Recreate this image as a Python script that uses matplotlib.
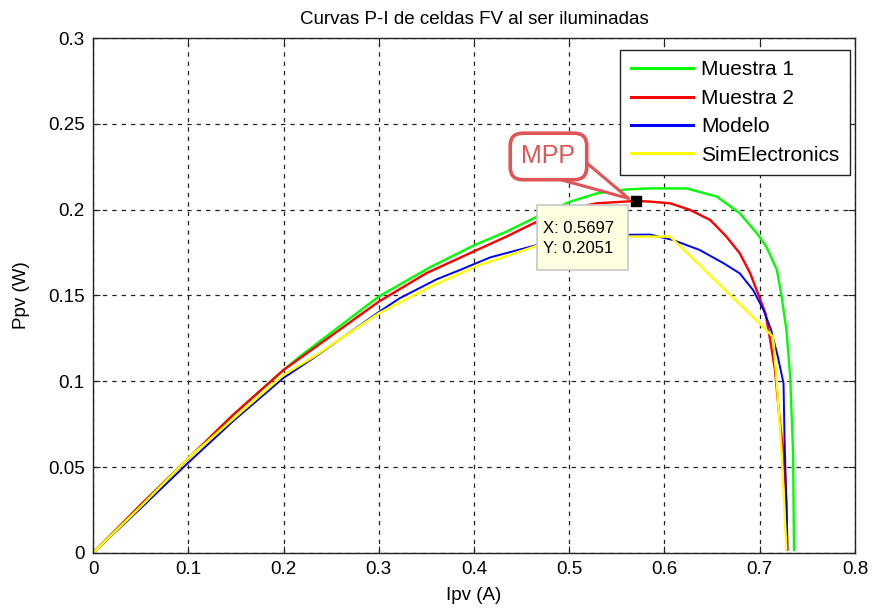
import numpy as np
import matplotlib
matplotlib.use("Agg")
import matplotlib.pyplot as plt
from matplotlib.patches import Rectangle

plt.rcParams['font.family'] = ['Liberation Sans', 'DejaVu Sans']

# --- datos ---
x_m1 = [0, 0.05, 0.1, 0.147, 0.2, 0.217, 0.3, 0.354, 0.401, 0.434, 0.466, 0.5, 0.529, 0.56, 0.585, 0.623,
        0.655, 0.679, 0.697, 0.707, 0.718, 0.723, 0.728, 0.732, 0.735, 0.736]
y_m1 = [0, 0.028, 0.055, 0.0804, 0.1066, 0.1144, 0.1494, 0.1665, 0.1795, 0.1872, 0.1959, 0.2045, 0.2095, 0.2118, 0.2124, 0.2124,
        0.2076, 0.1979, 0.1862, 0.1784, 0.1649, 0.1493, 0.1299, 0.1027, 0.0581, 0.0017]

x_m2 = [0, 0.05, 0.1, 0.147, 0.2, 0.3, 0.35, 0.401, 0.434, 0.466, 0.5, 0.529, 0.5697, 0.585, 0.606, 0.627, 0.648,
        0.665, 0.679, 0.690, 0.698, 0.706, 0.711, 0.716, 0.721, 0.725, 0.728, 0.729]
y_m2 = [0, 0.028, 0.055, 0.0804, 0.1066, 0.1464, 0.1630, 0.1760, 0.1843, 0.1930, 0.2005, 0.2037, 0.2051, 0.2047, 0.2037, 0.1998, 0.1940,
        0.1843, 0.1746, 0.1629, 0.1513, 0.1396, 0.1241, 0.1066, 0.0775, 0.0581, 0.029, 0.002]

x_mod = [0, 0.05, 0.1, 0.147, 0.2, 0.231, 0.298, 0.322, 0.361, 0.385, 0.417, 0.466, 0.5, 0.53, 0.585, 0.609, 0.637, 0.662,
         0.679, 0.693, 0.704, 0.712, 0.719, 0.725, 0.726, 0.728, 0.729]
y_mod = [0, 0.026, 0.0526, 0.0768, 0.1020, 0.1134, 0.1396, 0.1484, 0.1595, 0.1648, 0.1722, 0.1794, 0.1835, 0.1852, 0.1855, 0.1823, 0.1765, 0.1688,
         0.1629, 0.1532, 0.1416, 0.1299, 0.1144, 0.0988, 0.0678, 0.029, 0.002]

x_sim = [0, 0.05, 0.1, 0.147, 0.2, 0.231, 0.3, 0.354, 0.406, 0.417, 0.466, 0.5, 0.52, 0.606, 0.714, 0.718, 0.723, 0.728]
y_sim = [0, 0.027, 0.0552, 0.078, 0.1037, 0.1140, 0.1396, 0.1550, 0.1680, 0.1697, 0.1790, 0.1830, 0.1843, 0.1843, 0.126, 0.0988, 0.0581, 0.002]

mpp_x, mpp_y = 0.5697, 0.2051

fig = plt.figure(figsize=(8.75, 6.13), dpi=100)
ax = fig.add_axes([0.1063, 0.0979, 0.8708, 0.8401])

ax.plot(x_m1, y_m1, color="#00ff00", lw=1.7, label="Muestra 1")
ax.plot(x_m2, y_m2, color="#ff0000", lw=1.7, label="Muestra 2")
ax.plot(x_mod, y_mod, color="#0000ff", lw=1.4, label="Modelo")
ax.plot(x_sim, y_sim, color="#ffff00", lw=1.7, label="SimElectronics")

ax.set_xlim(0, 0.8)
ax.set_ylim(0, 0.3)
ax.set_xticks(np.arange(0, 0.81, 0.1))
ax.set_yticks(np.arange(0, 0.301, 0.05))
ax.set_xticklabels(["0", "0.1", "0.2", "0.3", "0.4", "0.5", "0.6", "0.7", "0.8"])
ax.set_yticklabels(["0", "0.05", "0.1", "0.15", "0.2", "0.25", "0.3"])
ax.tick_params(direction="in", length=5, top=True, right=True, labelsize=13.5, pad=6,
               color="#222222")
ax.grid(True, color="#222222", linestyle=(0, (3.5, 4)), linewidth=0.9)
for s in ax.spines.values():
    s.set_linewidth(1.0)
    s.set_color("#222222")

ax.set_title("Curvas P-I de celdas FV al ser iluminadas", fontsize=13.5, pad=10)
ax.set_xlabel("Ipv (A)", fontsize=13.5, labelpad=6)
ax.set_ylabel("Ppv (W)", fontsize=13.5, labelpad=13)

leg = ax.legend(loc="upper right", fontsize=15, handlelength=3.0, handletextpad=0.38,
                borderpad=0.5, labelspacing=0.45, fancybox=False, framealpha=1,
                edgecolor="#222222", bbox_to_anchor=(0.9934, 0.9767), borderaxespad=0)
leg.get_frame().set_linewidth(1.0)
for h in leg.get_lines():
    h.set_linewidth(2.2)

# marcador del punto de maxima potencia
ax.plot([mpp_x], [mpp_y], marker="s", color="k", markersize=7, zorder=6)

# cuadro del datatip
ax.add_patch(Rectangle((0.466, 0.1649), 0.0955, 0.0378, fc="#ffffe1", ec="#c8c8c8",
                       lw=1.2, zorder=7))
ax.text(0.4724, 0.1893, "X: 0.5697", fontsize=12, va="center", ha="left", zorder=8)
ax.text(0.4724, 0.1771, "Y: 0.2051", fontsize=12, va="center", ha="left", zorder=8)

# globo MPP (la cuña sale de dentro del cuadro)
ax.annotate("MPP", xy=(0.5625, 0.2065), xytext=(0.4782, 0.2310),
            fontsize=18, color="#e05555", ha="center", va="center",
            bbox=dict(boxstyle="round,pad=0.45,rounding_size=0.5", fc="white", ec="#e05555", lw=2.6),
            arrowprops=dict(arrowstyle="wedge,tail_width=1.4,shrink_factor=0.5",
                            fc="white", ec="#e05555", lw=2.2, shrinkA=0, shrinkB=0,
                            patchA=None, relpos=(0.68, 0.3)),
            zorder=8)

fig.savefig("out.png", dpi=100)
